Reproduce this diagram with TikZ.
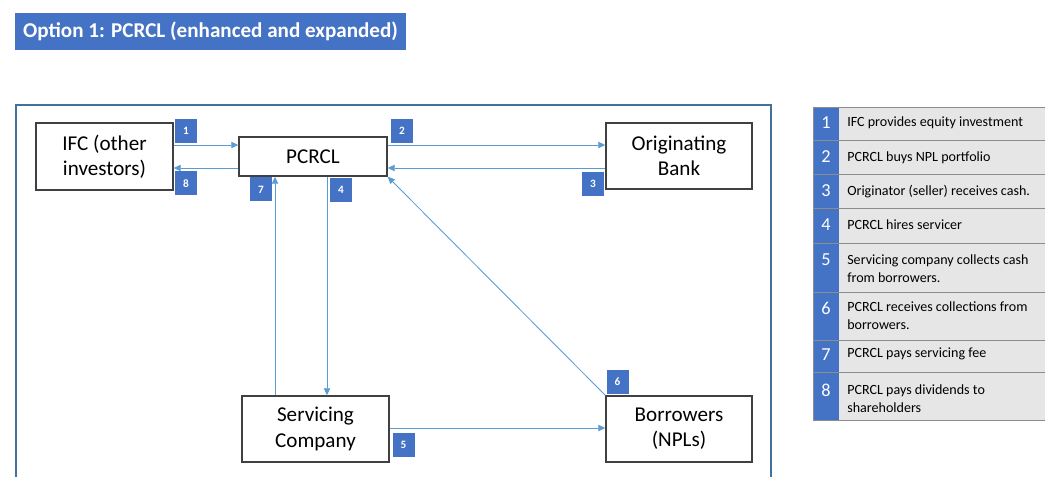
\documentclass[tikz,border=0pt]{standalone}
\usepackage{fontspec}
\setmainfont{Carlito}
\usepackage{tikz}
\usetikzlibrary{arrows.meta,calc}
\definecolor{badgeblue}{HTML}{4472C4}
\definecolor{flowblue}{HTML}{5B9BD5}
\definecolor{framecolor}{HTML}{41719C}
\definecolor{tablegray}{HTML}{E7E6E6}
\definecolor{rulegray}{HTML}{8C8C8C}
\newcommand{\px}{0.025cm}
\newcommand{\boxline}{1pt}
\tikzset{
  party/.style={draw=black!75, line width=\boxline, fill=white, align=center,
    font=\fontsize{15}{18}\selectfont, inner sep=0pt},
  badge/.style={fill=badgeblue, text=white, font=\fontsize{8}{9}\bfseries,
    minimum width=22*\px, minimum height=24*\px, inner sep=0pt},
  flow/.style={flowblue, line width=0.6pt, -{Triangle[length=5pt,width=4.5pt]}},
  rownum/.style={text=white, font=\fontsize{13}{15}\selectfont, anchor=north},
  rowtext/.style={anchor=north west, align=left, font=\fontsize{10}{12.8}\selectfont,
    inner sep=0pt}
}

\begin{document}
\begin{tikzpicture}[x=\px, y=-\px]
\clip (0,0) rectangle (1045,477);
\fill[white] (0,0) rectangle (1045,477);

%title
\node[fill=badgeblue, text=white, font=\fontsize{15}{17}\bfseries\selectfont,
  minimum width=391*\px, minimum height=37*\px, inner sep=0pt] (title) at (210.5,31.5)
  {Option 1: PCRCL (enhanced and expanded)};

%frame
\draw[framecolor, line width=1.8pt] (16,105) rectangle (771,500);

%parties
\node[party, minimum width=137*\px, minimum height=67*\px] (ifc) at (104.5,156.5) {IFC (other\\investors)};
\node[party, minimum width=148*\px, minimum height=39*\px] (pcrcl) at (313,156.5) {PCRCL};
\node[party, minimum width=146*\px, minimum height=66*\px] (bank) at (679,156) {Originating\\Bank};
\node[party, minimum width=147*\px, minimum height=66*\px] (servicer) at (315.5,429) {Servicing\\Company};
\node[party, minimum width=146*\px, minimum height=66*\px] (borrowers) at (679,429) {Borrowers\\(NPLs)};

%levels of the arrows
\coordinate (upper) at (0,145);
\coordinate (lower) at (0,168);
\coordinate (bottom) at (0,428);
\coordinate (left) at (275,0);
\coordinate (right) at (327,0);

%flows
\draw[flow] (ifc.east |- upper) -- (pcrcl.west |- upper);
\draw[flow] (pcrcl.east |- upper) -- (bank.west |- upper);
\draw[flow] (bank.west |- lower) -- (pcrcl.east |- lower);
\draw[flow] (pcrcl.south -| right) -- (servicer.north -| right);
\draw[flow] (servicer.east |- bottom) -- (borrowers.west |- bottom);
\draw[flow] (borrowers.north west) -- (pcrcl.south east);
\draw[flow] (servicer.north -| left) -- (pcrcl.south -| left);
\draw[flow] (pcrcl.west |- lower) -- (ifc.east |- lower);

%badges
\node[badge] (b1) at (186,131) {1};
\node[badge] (b2) at (402,131) {2};
\node[badge] (b3) at (593,184) {3};
\node[badge] (b4) at (341,190) {4};
\node[badge] (b5) at (403.5,445) {5};
\node[badge] (b6) at (617.5,382) {6};
\node[badge] (b7) at (261,189.5) {7};
\node[badge] (b8) at (186,183.5) {8};

%legend
\fill[tablegray] (813,107) rectangle (1050,420);
\fill[badgeblue] (813,107) rectangle (839,420);
\draw[rulegray, line width=0.6pt] (1050,107) -- (813,107) -- (813,420) -- (1050,420);
\draw[rulegray, line width=0.6pt] (813,140) -- (1050,140);
\draw[rulegray, line width=0.6pt] (813,174) -- (1050,174);
\draw[rulegray, line width=0.6pt] (813,208) -- (1050,208);
\draw[rulegray, line width=0.6pt] (813,243) -- (1050,243);
\draw[rulegray, line width=0.6pt] (813,292) -- (1050,292);
\draw[rulegray, line width=0.6pt] (813,340) -- (1050,340);
\draw[rulegray, line width=0.6pt] (813,372) -- (1050,372);

\node[rownum] (n1) at (826,112) {1};
\node[rownum] (n2) at (826,146) {2};
\node[rownum] (n3) at (826,180) {3};
\node[rownum] (n4) at (826,214) {4};
\node[rownum] (n5) at (826,249) {5};
\node[rownum] (n6) at (826,297) {6};
\node[rownum] (n7) at (826,344) {7};
\node[rownum] (n8) at (826,379) {8};

\node[rowtext] (t1) at (847,116) {IFC provides equity investment};
\node[rowtext] (t2) at (847,151) {PCRCL buys NPL portfolio};
\node[rowtext] (t3) at (847,185) {Originator (seller) receives cash.};
\node[rowtext] (t4) at (847,219) {PCRCL hires servicer};
\node[rowtext] (t5) at (847,254) {Servicing company collects cash\\from borrowers.};
\node[rowtext] (t6) at (847,301) {PCRCL receives collections from\\borrowers.};
\node[rowtext] (t7) at (847,348) {PCRCL pays servicing fee};
\node[rowtext] (t8) at (847,384) {PCRCL pays dividends to\\shareholders};
\end{tikzpicture}
\end{document}
